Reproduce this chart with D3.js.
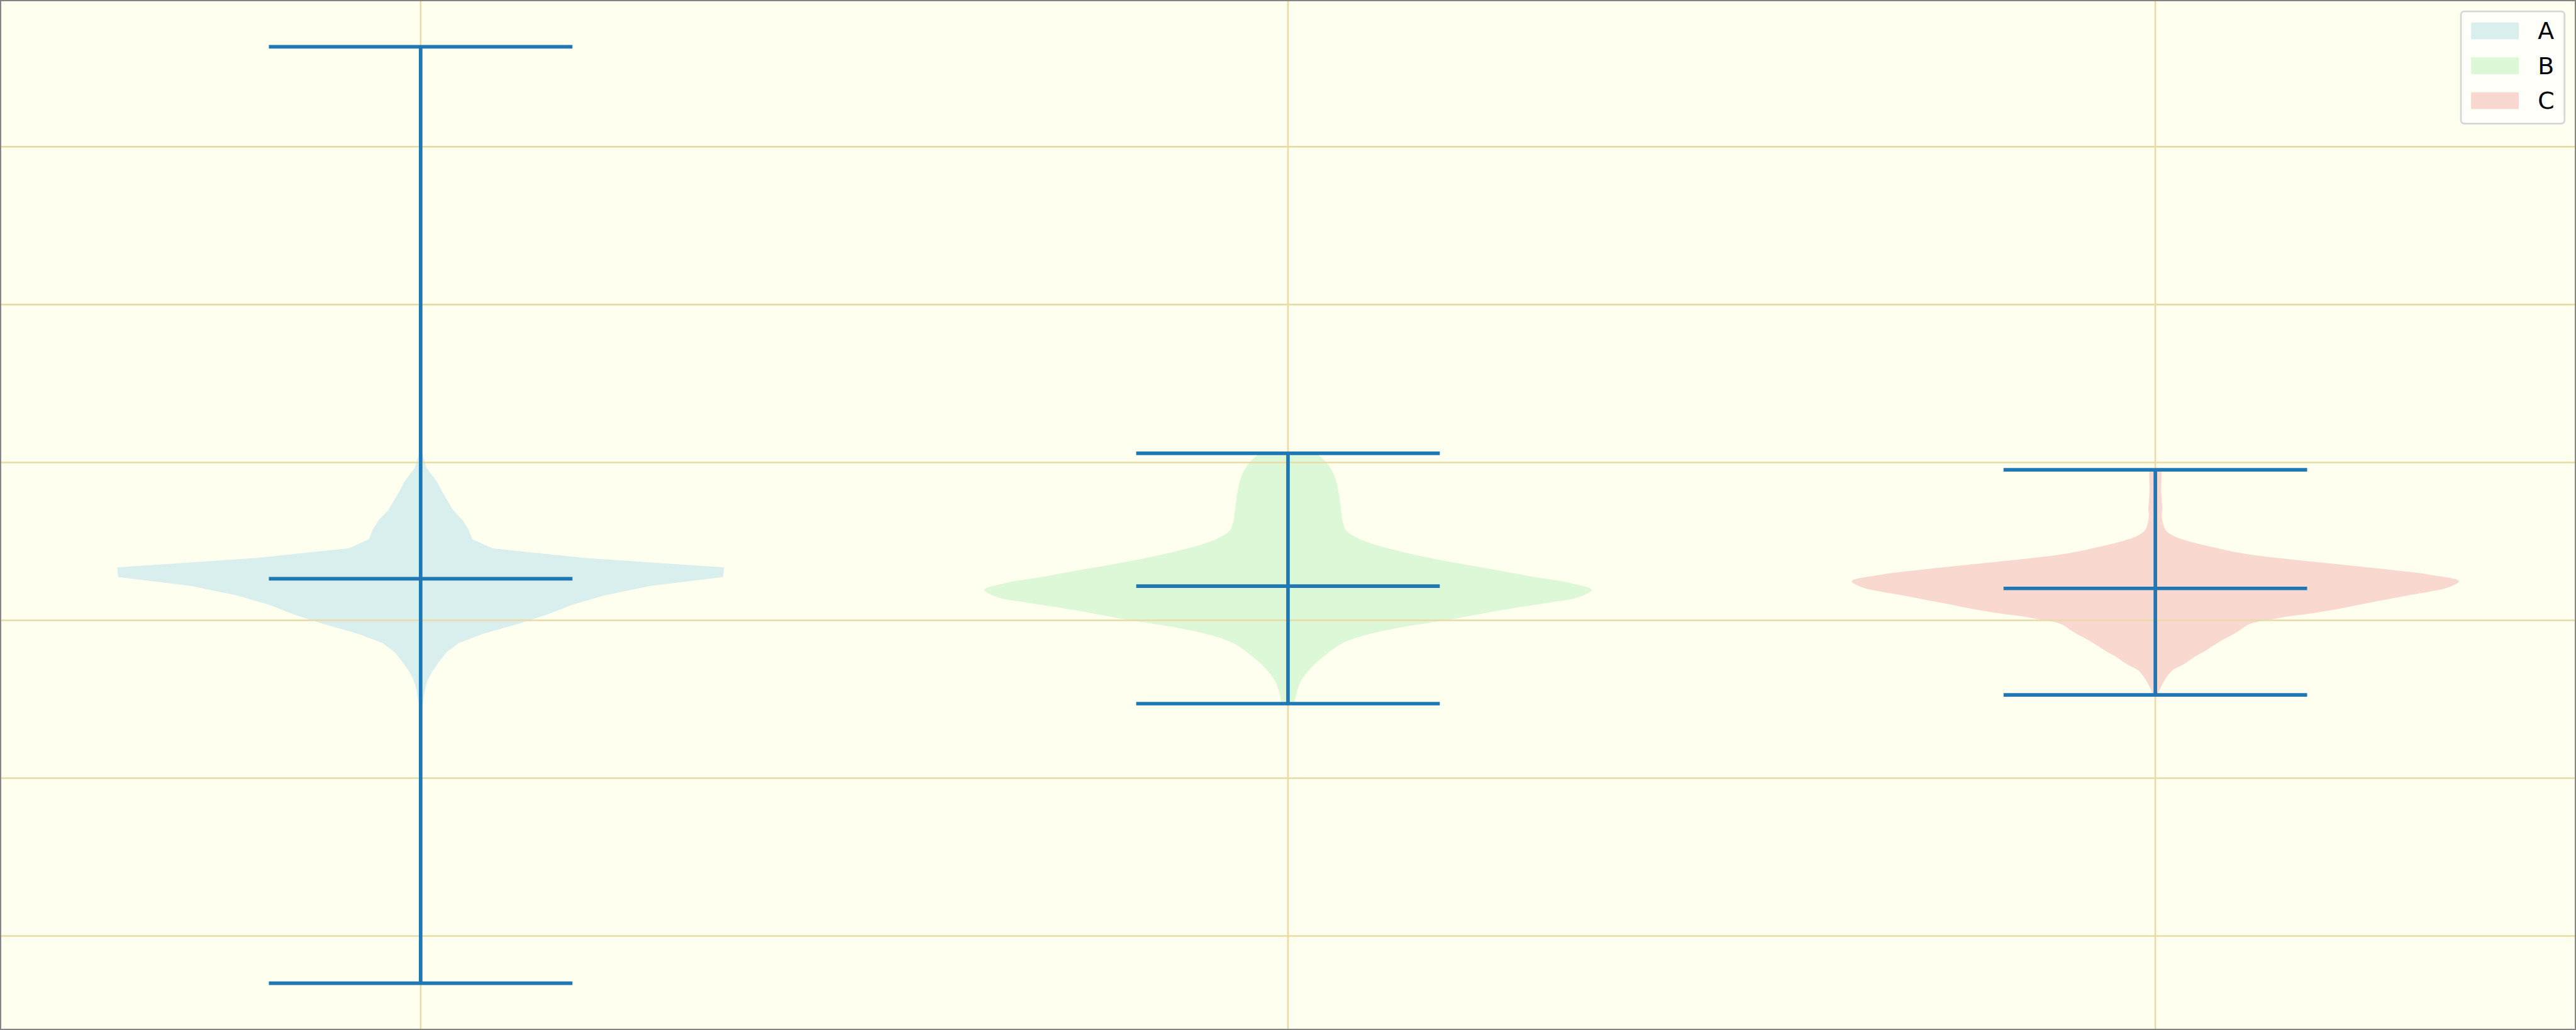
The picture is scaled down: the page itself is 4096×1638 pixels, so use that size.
<!DOCTYPE html>
<html>
<head>
<meta charset="utf-8">
<script src="https://cdn.jsdelivr.net/npm/d3@7"></script>
<style>
  html, body { margin: 0; padding: 0; background: #fffff0; overflow: hidden; }
  svg { display: block; }
</style>
</head>
<body>
<script>
// ---------------- data ----------------
const categories = ["A", "B", "C"];
const positions = [1, 2, 3];
const violinWidth = 0.7;

// KDE profiles: values along the axis and relative width (0..1)
const profileA_v = [3.633, 2.479, 1.390, 1.064, 1.040, 0.967, 0.877, 0.816, 0.695, 0.635, 0.574, 0.514, 0.456, 0.395, 0.335, 0.274, 0.218, 0.157, 0.097, 0.036, -0.024, -0.085, -0.145, -0.203, -0.264, -0.324, -0.384, -0.442, -0.502, -0.569, -0.786, -1.512, -2.299];
const profileA_w = [0.0005, 0.0008, 0.002, 0.004, 0.008, 0.019, 0.054, 0.070, 0.108, 0.138, 0.158, 0.170, 0.237, 0.54, 1.0, 0.996, 0.757, 0.605, 0.498, 0.416, 0.319, 0.207, 0.125, 0.085, 0.06, 0.038, 0.022, 0.014, 0.009, 0.004, 0.002, 0.001, 0.0005];

const profileB_v = [1.058, 0.992, 0.919, 0.858, 0.798, 0.738, 0.677, 0.617, 0.568, 0.520, 0.472, 0.423, 0.375, 0.327, 0.278, 0.236, 0.193, 0.145, 0.109, 0.060, 0.012, -0.049, -0.097, -0.145, -0.218, -0.303, -0.387, -0.472, -0.528];
const profileB_w = [0.093, 0.13, 0.152, 0.162, 0.168, 0.172, 0.176, 0.181, 0.192, 0.23, 0.30, 0.40, 0.52, 0.66, 0.80, 0.93, 1.0, 0.955, 0.85, 0.69, 0.555, 0.36, 0.25, 0.18, 0.125, 0.075, 0.042, 0.027, 0.022];

const profileC_v = [0.953, 0.883, 0.822, 0.762, 0.701, 0.665, 0.617, 0.568, 0.532, 0.496, 0.459, 0.423, 0.387, 0.351, 0.314, 0.290, 0.248, 0.210, 0.157, 0.109, 0.060, 0.012, -0.024, -0.061, -0.085, -0.133, -0.194, -0.230, -0.278, -0.315, -0.351, -0.399, -0.466, -0.473];
const profileC_w = [0.02, 0.02, 0.019, 0.021, 0.023, 0.021, 0.025, 0.035, 0.063, 0.12, 0.2, 0.29, 0.44, 0.62, 0.80, 0.90, 1.0, 0.967, 0.83, 0.70, 0.57, 0.40, 0.31, 0.28, 0.26, 0.214, 0.164, 0.13, 0.094, 0.058, 0.041, 0.025, 0.009, 0.008];

const maxima = [3.633, 1.058, 0.953];
const minima = [-2.299, -0.528, -0.473];
const medians = [0.263, 0.216, 0.202];

const xTicks = [1, 2, 3];
const yTicks = [-2, -1, 0, 1, 2, 3];

const fillColors = ["#d9efee", "#ddf8d7", "#f9d8cf"];

// ---------------- layout ----------------
const W = 4500, H = 1800;
const svg = d3.select("body").append("svg")
  .attr("width", 4096).attr("height", 1638)
  .attr("viewBox", `0 0 ${W} ${H}`)
  .attr("preserveAspectRatio", "none");

svg.append("rect").attr("x", 0).attr("y", 0).attr("width", W).attr("height", H).attr("fill", "#fffff0");

const xMinD = d3.min(positions) - violinWidth / 2, xMaxD = d3.max(positions) + violinWidth / 2;
const xPad = (xMaxD - xMinD) * 0.05;
const x = d3.scaleLinear().domain([xMinD - xPad, xMaxD + xPad]).range([0, W]);

const yMinD = d3.min(minima), yMaxD = d3.max(maxima);
const yPad = (yMaxD - yMinD) * 0.05;
const y = d3.scaleLinear().domain([yMinD - yPad, yMaxD + yPad]).range([H, 0]);

const profiles = [
  { v: profileA_v, w: profileA_w, curve: d3.curveLinear },
  { v: profileB_v, w: profileB_w, curve: d3.curveCatmullRom },
  { v: profileC_v, w: profileC_w, curve: d3.curveCatmullRom }
];

// violin bodies
profiles.forEach((p, i) => {
  const pts = p.v.map((v, k) => ({ v, w: p.w[k] }));
  const half = violinWidth / 2;
  const area = d3.area()
    .y(d => y(d.v))
    .x0(d => x(positions[i] - half * d.w))
    .x1(d => x(positions[i] + half * d.w))
    .curve(p.curve);
  svg.append("path").attr("d", area(pts)).attr("fill", fillColors[i]).attr("stroke", "none");
});

// grid
const grid = svg.append("g").attr("stroke", "#e8dba6").attr("stroke-width", 2.8);
grid.selectAll("line.gy").data(yTicks).join("line")
  .attr("x1", 0).attr("x2", W).attr("y1", d => y(d)).attr("y2", d => y(d));
grid.selectAll("line.gx").data(xTicks).join("line")
  .attr("y1", 0).attr("y2", H).attr("x1", d => x(d)).attr("x2", d => x(d));

// whiskers, caps, medians
const lc = "#1f77b4", lw = 6.25;
const cap = violinWidth / 4;
const g = svg.append("g").attr("stroke", lc).attr("stroke-width", lw);
positions.forEach((pos, i) => {
  g.append("line").attr("x1", x(pos)).attr("x2", x(pos)).attr("y1", y(maxima[i])).attr("y2", y(minima[i]));
  [maxima[i], minima[i], medians[i]].forEach(val => {
    g.append("line").attr("x1", x(pos - cap)).attr("x2", x(pos + cap)).attr("y1", y(val)).attr("y2", y(val));
  });
});

// border
svg.append("rect").attr("x", 1).attr("y", 1).attr("width", W - 2).attr("height", H - 2)
  .attr("fill", "none").attr("stroke", "#808080").attr("stroke-width", 2.2);

// legend
const leg = svg.append("g");
leg.append("rect").attr("x", 4299).attr("y", 20).attr("width", 181).attr("height", 196)
  .attr("rx", 6).attr("ry", 6).attr("fill", "#fffffa").attr("stroke", "#d6d6d6").attr("stroke-width", 3);
categories.forEach((c, i) => {
  const top = 39.3 + i * 61;
  leg.append("rect").attr("x", 4316.7).attr("y", top).attr("width", 83.3).attr("height", 29.3).attr("fill", fillColors[i]);
  leg.append("text").attr("x", 4433.3).attr("y", top + 29.2)
    .attr("font-family", "DejaVu Sans").attr("font-size", 41.67).attr("fill", "#000").text(c);
});
</script>
</body>
</html>
